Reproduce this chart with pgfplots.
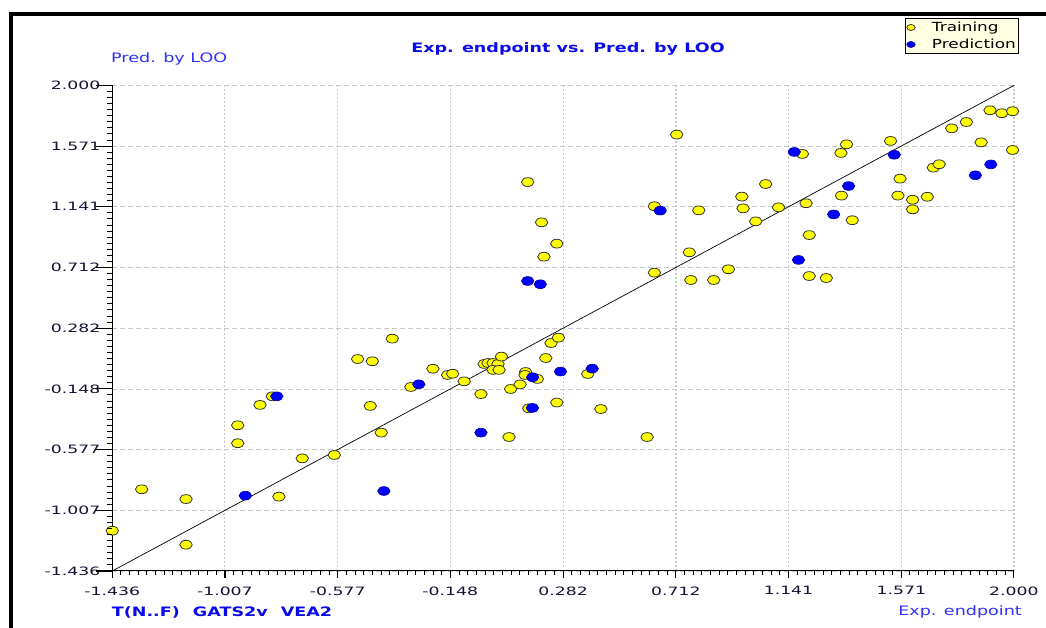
\documentclass[border=0pt]{standalone}
\usepackage{pgfplots}
\pgfplotsset{compat=1.18}
\usepackage{fontspec}
\setmainfont[FakeStretch=1.35]{DejaVu Sans}
\newfontfamily\tickfont[FakeStretch=1.5]{DejaVu Sans}
\definecolor{lblue}{RGB}{48,48,255}
\definecolor{tblue}{RGB}{10,10,235}
\definecolor{ptyellow}{RGB}{255,255,0}
\definecolor{ptblue}{RGB}{0,0,255}
\definecolor{gridgray}{RGB}{200,200,200}
\definecolor{legbg}{RGB}{255,255,225}
\definecolor{ticktext}{RGB}{20,20,50}

\pgfplotstableread{
x y
-1.436 -1.151
-1.324 -0.858
-1.155 -0.927
-1.155 -1.250
-0.958 -0.532
-0.958 -0.405
-0.873 -0.261
-0.826 -0.200
-0.801 -0.910
-0.712 -0.639
-0.590 -0.615
-0.501 0.064
-0.445 0.048
-0.453 -0.268
-0.411 -0.457
-0.369 0.208
-0.298 -0.134
-0.214 -0.005
-0.158 -0.049
-0.139 -0.040
-0.095 -0.094
-0.031 -0.184
-0.019 0.029
-0.004 0.036
0.015 0.036
0.034 0.029
0.015 -0.013
0.038 -0.013
0.047 0.081
0.076 -0.488
0.082 -0.148
0.118 -0.116
0.139 -0.028
0.137 -0.049
0.184 -0.077
0.151 -0.285
0.216 0.071
0.236 0.177
0.264 0.215
0.258 -0.244
0.376 -0.042
0.426 -0.290
0.147 1.316
0.200 1.031
0.258 0.880
0.209 0.788
0.602 -0.488
0.630 1.145
0.630 0.675
0.715 1.652
0.763 0.819
0.769 0.623
0.799 1.116
0.856 0.623
0.912 0.699
0.963 1.213
0.968 1.130
1.016 1.038
1.054 1.302
1.103 1.137
1.194 1.515
1.208 1.166
1.220 0.941
1.220 0.651
1.285 0.637
1.341 1.522
1.362 1.583
1.343 1.220
1.384 1.046
1.530 1.607
1.566 1.340
1.558 1.220
1.614 1.191
1.614 1.123
1.670 1.212
1.693 1.418
1.715 1.442
1.763 1.696
1.819 1.741
1.875 1.597
1.909 1.824
1.954 1.803
1.995 1.817
1.995 1.543
}\training

\pgfplotstableread{
x y
-0.929 -0.903
-0.809 -0.200
-0.401 -0.870
-0.268 -0.115
-0.031 -0.457
0.147 0.616
0.195 0.593
0.166 -0.065
0.165 -0.282
0.272 -0.025
0.393 -0.004
0.652 1.114
1.163 1.529
1.179 0.765
1.313 1.087
1.370 1.288
1.544 1.509
1.853 1.364
1.912 1.441
}\prediction

\begin{document}
\begin{tikzpicture}
\path[use as bounding box] (0pt,0pt) rectangle (1046pt,628pt);
\fill[white] (0pt,0pt) rectangle (1046pt,628pt);
\draw[line width=4pt] (9pt,614pt) -- (1046pt,614pt);
\draw[line width=4pt] (11pt,616pt) -- (11pt,0pt);
\begin{axis}[
  at={(112.3pt,57pt)}, anchor=south west, scale only axis,
  width=901.6pt, height=485.6pt,
  xmin=-1.436, xmax=2, ymin=-1.436, ymax=2,
  axis x line*=bottom, axis y line*=left,
  axis line style={line width=1pt, black},
  clip mode=individual,
  xtick={-1.436,-1.007,-0.577,-0.148,0.282,0.712,1.141,1.571,2.000},
  ytick={-1.436,-1.007,-0.577,-0.148,0.282,0.712,1.141,1.571,2.000},
  xticklabels={-1.436,-1.007,-0.577,-0.148,0.282,0.712,1.141,1.571,2.000},
  yticklabels={-1.436,-1.007,-0.577,-0.148,0.282,0.712,1.141,1.571,2.000},
  tick align=outside,
  major tick length=0pt, minor tick length=0pt,
  grid=major,
  major x grid style={gridgray, line width=1.2pt, dash pattern=on 2pt off 2pt},
  major y grid style={gridgray, line width=0.9pt, dash pattern=on 5pt off 3pt},
  ticklabel style={font=\tickfont\fontsize{11.5}{12}\selectfont, text=ticktext},
  yticklabel style={xshift=-8.5pt},
  xticklabel style={yshift=-12pt},
  legend style={at={(1.006,1.1388)}, anchor=north east, fill=legbg, draw=black, line width=1pt,
    font=\fontsize{12.5}{13}\selectfont, inner xsep=1pt, inner ysep=1.5pt, row sep=2pt,
    cells={anchor=west}},
  legend image code/.code={\path[draw=none] (0pt,0pt) -- (23pt,0pt);\draw[#1, mark size=3pt, line width=0.6pt] plot coordinates {(4pt,0pt)};},
]
\addplot[black, line width=0.7pt, forget plot] coordinates {(-1.436,-1.436) (2,2)};
\addplot[only marks, mark=*, mark size=4.4pt, mark options={xscale=1.42, fill=ptyellow, draw=black!80, line width=0.8pt}] table[x=x,y=y] {\training};
\addplot[only marks, mark=*, mark size=4.4pt, mark options={xscale=1.42, fill=ptblue, draw=blue!60!black, line width=0.6pt}] table[x=x,y=y] {\prediction};
\legend{Training\hspace{6pt}, Prediction\hspace{6pt}}
\end{axis}
% axis tick marks (decoration)
\foreach \k in {0,...,8}{
  \draw[black,line width=1.1pt] ({112.3pt+\k*112.7pt},57pt) -- ++(0pt,-7.5pt);
  \draw[black,line width=1.1pt] (112.3pt,{57pt+\k*60.7pt}) -- ++(-16pt,0pt);
}
\foreach \i in {1,...,103}{
  \draw[black,line width=1pt] ({112.3pt+\i*8.6692pt},57pt) -- ++(0pt,-4pt);
}
\foreach \i in {1,...,79}{
  \draw[black,line width=1pt] (112.3pt,{57pt+\i*6.07pt}) -- ++(-5.5pt,0pt);
}
\node[anchor=base, inner sep=0pt, text=tblue, font=\bfseries\fontsize{13}{14}\selectfont] at (568pt,575.5pt) {Exp. endpoint vs. Pred. by LOO};
\node[anchor=base west, inner sep=0pt, text=lblue, font=\fontsize{13}{14}\selectfont] at (111pt,565.7pt) {Pred. by LOO};
\node[anchor=base west, inner sep=0pt, text=tblue, font=\bfseries\fontsize{13}{14}\selectfont] at (111.7pt,11.3pt) {T(N..F)\hspace{1em}GATS2v\hspace{1em}VEA2};
\node[anchor=base east, inner sep=0pt, text=lblue, font=\fontsize{13}{14}\selectfont] at (1022pt,12pt) {Exp. endpoint};
\end{tikzpicture}
\end{document}
